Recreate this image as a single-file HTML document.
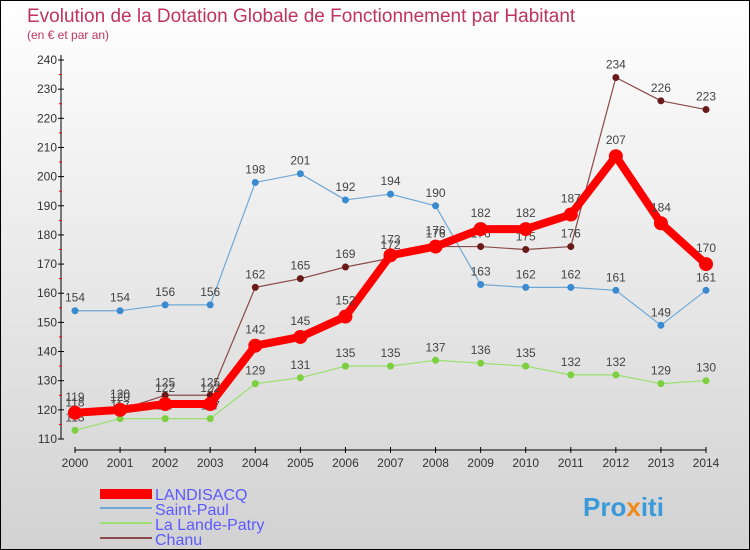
<!DOCTYPE html>
<html><head><meta charset="utf-8"><style>
body{margin:0}
svg{display:block;font-family:"Liberation Sans",sans-serif}
</style></head><body>
<svg width="750" height="550" id="c">
<defs><linearGradient id="bg" x1="0" y1="0" x2="0" y2="1"><stop offset="0" stop-color="#ffffff"/><stop offset="1" stop-color="#d2d2d2"/></linearGradient></defs>
<rect x="0.5" y="0.5" width="749" height="549" fill="url(#bg)" stroke="#000"/>
<text x="27" y="22" font-size="19" fill="#c0335f">Evolution de la Dotation Globale de Fonctionnement par Habitant</text>
<text x="27" y="39" font-size="12" fill="#c0335f">(en € et par an)</text>
<g id="axes"></g><g id="series"></g>
<g>
<rect x="100" y="489" width="52" height="10" fill="#f00"/>
<text x="155" y="500" font-size="16" fill="#5a5aff">LANDISACQ</text>
<line x1="100" y1="508" x2="152" y2="508" stroke="#6fa8d6" stroke-width="2"/>
<text x="155" y="515" font-size="16" fill="#5a5aff">Saint-Paul</text>
<line x1="100" y1="523" x2="152" y2="523" stroke="#99e070" stroke-width="2"/>
<text x="155" y="530" font-size="16" fill="#5a5aff">La Lande-Patry</text>
<line x1="100" y1="538" x2="152" y2="538" stroke="#8b4a4a" stroke-width="2"/>
<text x="155" y="545" font-size="16" fill="#5a5aff">Chanu</text>
</g>
<text x="583" y="516" font-size="26" font-weight="bold" fill="#3a9ad9">Pro<tspan fill="#f08a1c">x</tspan>iti</text>
</svg>
<script>
const years=[2000,2001,2002,2003,2004,2005,2006,2007,2008,2009,2010,2011,2012,2013,2014];
const yTicks=[110,120,130,140,150,160,170,180,190,200,210,220,230,240];
const landisacq=[119,120,122,122,142,145,152,173,176,182,182,187,207,184,170];
const saintPaul=[154,154,156,156,198,201,192,194,190,163,162,162,161,149,161];
const laLande=[113,117,117,117,129,131,135,135,137,136,135,132,132,129,130];
const chanu=[118,120,125,125,162,165,169,172,176,176,175,176,234,226,223];
const NS="http://www.w3.org/2000/svg";
const x0=75,x1=706,yMin=110,yMax=240,py0=439,py1=60;
const X=i=>x0+(x1-x0)*i/(years.length-1);
const Y=v=>py0-(v-yMin)*(py0-py1)/(yMax-yMin);
function mk(t,a,p){const e=document.createElementNS(NS,t);for(const k in a)e.setAttribute(k,a[k]);p.appendChild(e);return e;}
const ax=document.getElementById('axes');
let l=mk('line',{x1:61,y1:55,x2:61,y2:Y(yMin),stroke:'#000'},ax);


yTicks.forEach((v,i)=>{
 mk('line',{x1:58,x2:64,y1:Y(v),y2:Y(v),stroke:'#000'},ax);
 if(i<yTicks.length-1)mk('line',{x1:59,x2:62,y1:Y(v+5),y2:Y(v+5),stroke:'#f00'},ax);
 const t=mk('text',{x:57,y:Y(v)+4,'font-size':12,'text-anchor':'end',fill:'#333'},ax);
 t.textContent=v;
 
 
});
l=mk('line',{x1:X(0),y1:450,x2:X(14),y2:450,stroke:'#000'},ax);


years.forEach((y,i)=>{
 mk('line',{x1:X(i),x2:X(i),y1:447,y2:453,stroke:'#000'},ax);
 const t=mk('text',{x:X(i),y:467,'font-size':12,'text-anchor':'middle',fill:'#333'},ax);
 t.textContent=y;
 
 
});
const sg=document.getElementById('series');
function series(vals,name,col,w,r,dotCol,dy){
 const g=mk('g',{},sg);
 
 
 const p=mk('polyline',{points:vals.map((v,i)=>X(i)+','+Y(v)).join(' '),fill:'none',stroke:col,'stroke-width':w,'stroke-linejoin':'round'},g);
 
 
 vals.forEach((v,i)=>{
  const c=mk('circle',{cx:X(i),cy:Y(v),r:r,fill:dotCol},g);
  
  
  const t=mk('text',{x:X(i),y:Y(v)+dy,'font-size':12,'text-anchor':'middle',fill:'#444'},g);
  t.textContent=v;
  
  
 });
}
series(saintPaul,'saint-paul','#6fa8d6',1.2,3.5,'#3a8ad0',-9);
series(laLande,'la-lande-patry','#99e070',1.2,3.5,'#7ccf3f',-9);
series(chanu,'chanu','#8b4a4a',1.2,3.5,'#6b1a1a',-9);
series(landisacq,'landisacq','#f00',8,7,'#f00',-12);
</script>
</body></html>
